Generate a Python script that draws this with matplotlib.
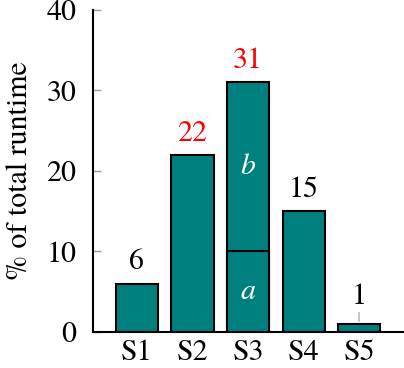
import matplotlib.pyplot as plt

# Data
stages = ['S1', 'S2', 'S3', 'S4', 'S5']
totals = [6, 22, 31, 15, 1]
s3_parts = [10, 21]          # a, b
part_labels = ['a', 'b']
label_colors = ['black', 'red', 'red', 'black', 'black']
yticks = [0, 10, 20, 30, 40]

plt.rcParams['font.family'] = ['TeX Gyre Termes', 'Liberation Serif', 'DejaVu Serif']
teal = '#007f7f'
fs = 21.5

fig = plt.figure(figsize=(4.04, 3.68), dpi=100)
ax = fig.add_axes([0.230, 0.098, 0.768, 0.875])

x = list(range(1, len(stages) + 1))
w = 0.76
ax.bar(x, totals, width=w, color=teal, edgecolor='black', linewidth=1.5, zorder=2)
# split line in S3
ax.bar(x[2], s3_parts[0], width=w, color=teal, edgecolor='black', linewidth=1.5, zorder=3)

# value labels
for xi, v, c in zip(x, totals, label_colors):
    if v < 3:
        ax.plot([xi, xi], [v + 0.3, v + 1.4], color='#bbbbbb', lw=1.2, zorder=1)
        ax.text(xi, v + 1.6, str(v), ha='center', va='bottom', fontsize=fs, color=c)
    else:
        ax.text(xi, v + 0.9, str(v), ha='center', va='bottom', fontsize=fs, color=c)

# inner labels in S3
ax.text(x[2], s3_parts[0] / 2, part_labels[0], ha='center', va='center',
        fontsize=fs, color='white', style='italic')
ax.text(x[2], s3_parts[0] + s3_parts[1] / 2, part_labels[1], ha='center', va='center',
        fontsize=fs, color='white', style='italic')

ax.set_xlim(0.21, 5.79)
ax.set_ylim(0, 40)
ax.set_xticks(x)
ax.set_xticklabels(stages, fontsize=fs)
ax.set_yticks(yticks)
ax.set_yticklabels([str(t) for t in yticks], fontsize=fs)
ax.tick_params(axis='x', length=0, pad=5)
ax.tick_params(axis='y', direction='in', length=6, color='#999999', width=1, pad=12)
ax.set_ylabel('% of total runtime', fontsize=fs, labelpad=9)

for s in ['top', 'right']:
    ax.spines[s].set_visible(False)
for s in ['left', 'bottom']:
    ax.spines[s].set_linewidth(1.5)

fig.savefig('out.png', dpi=100)
